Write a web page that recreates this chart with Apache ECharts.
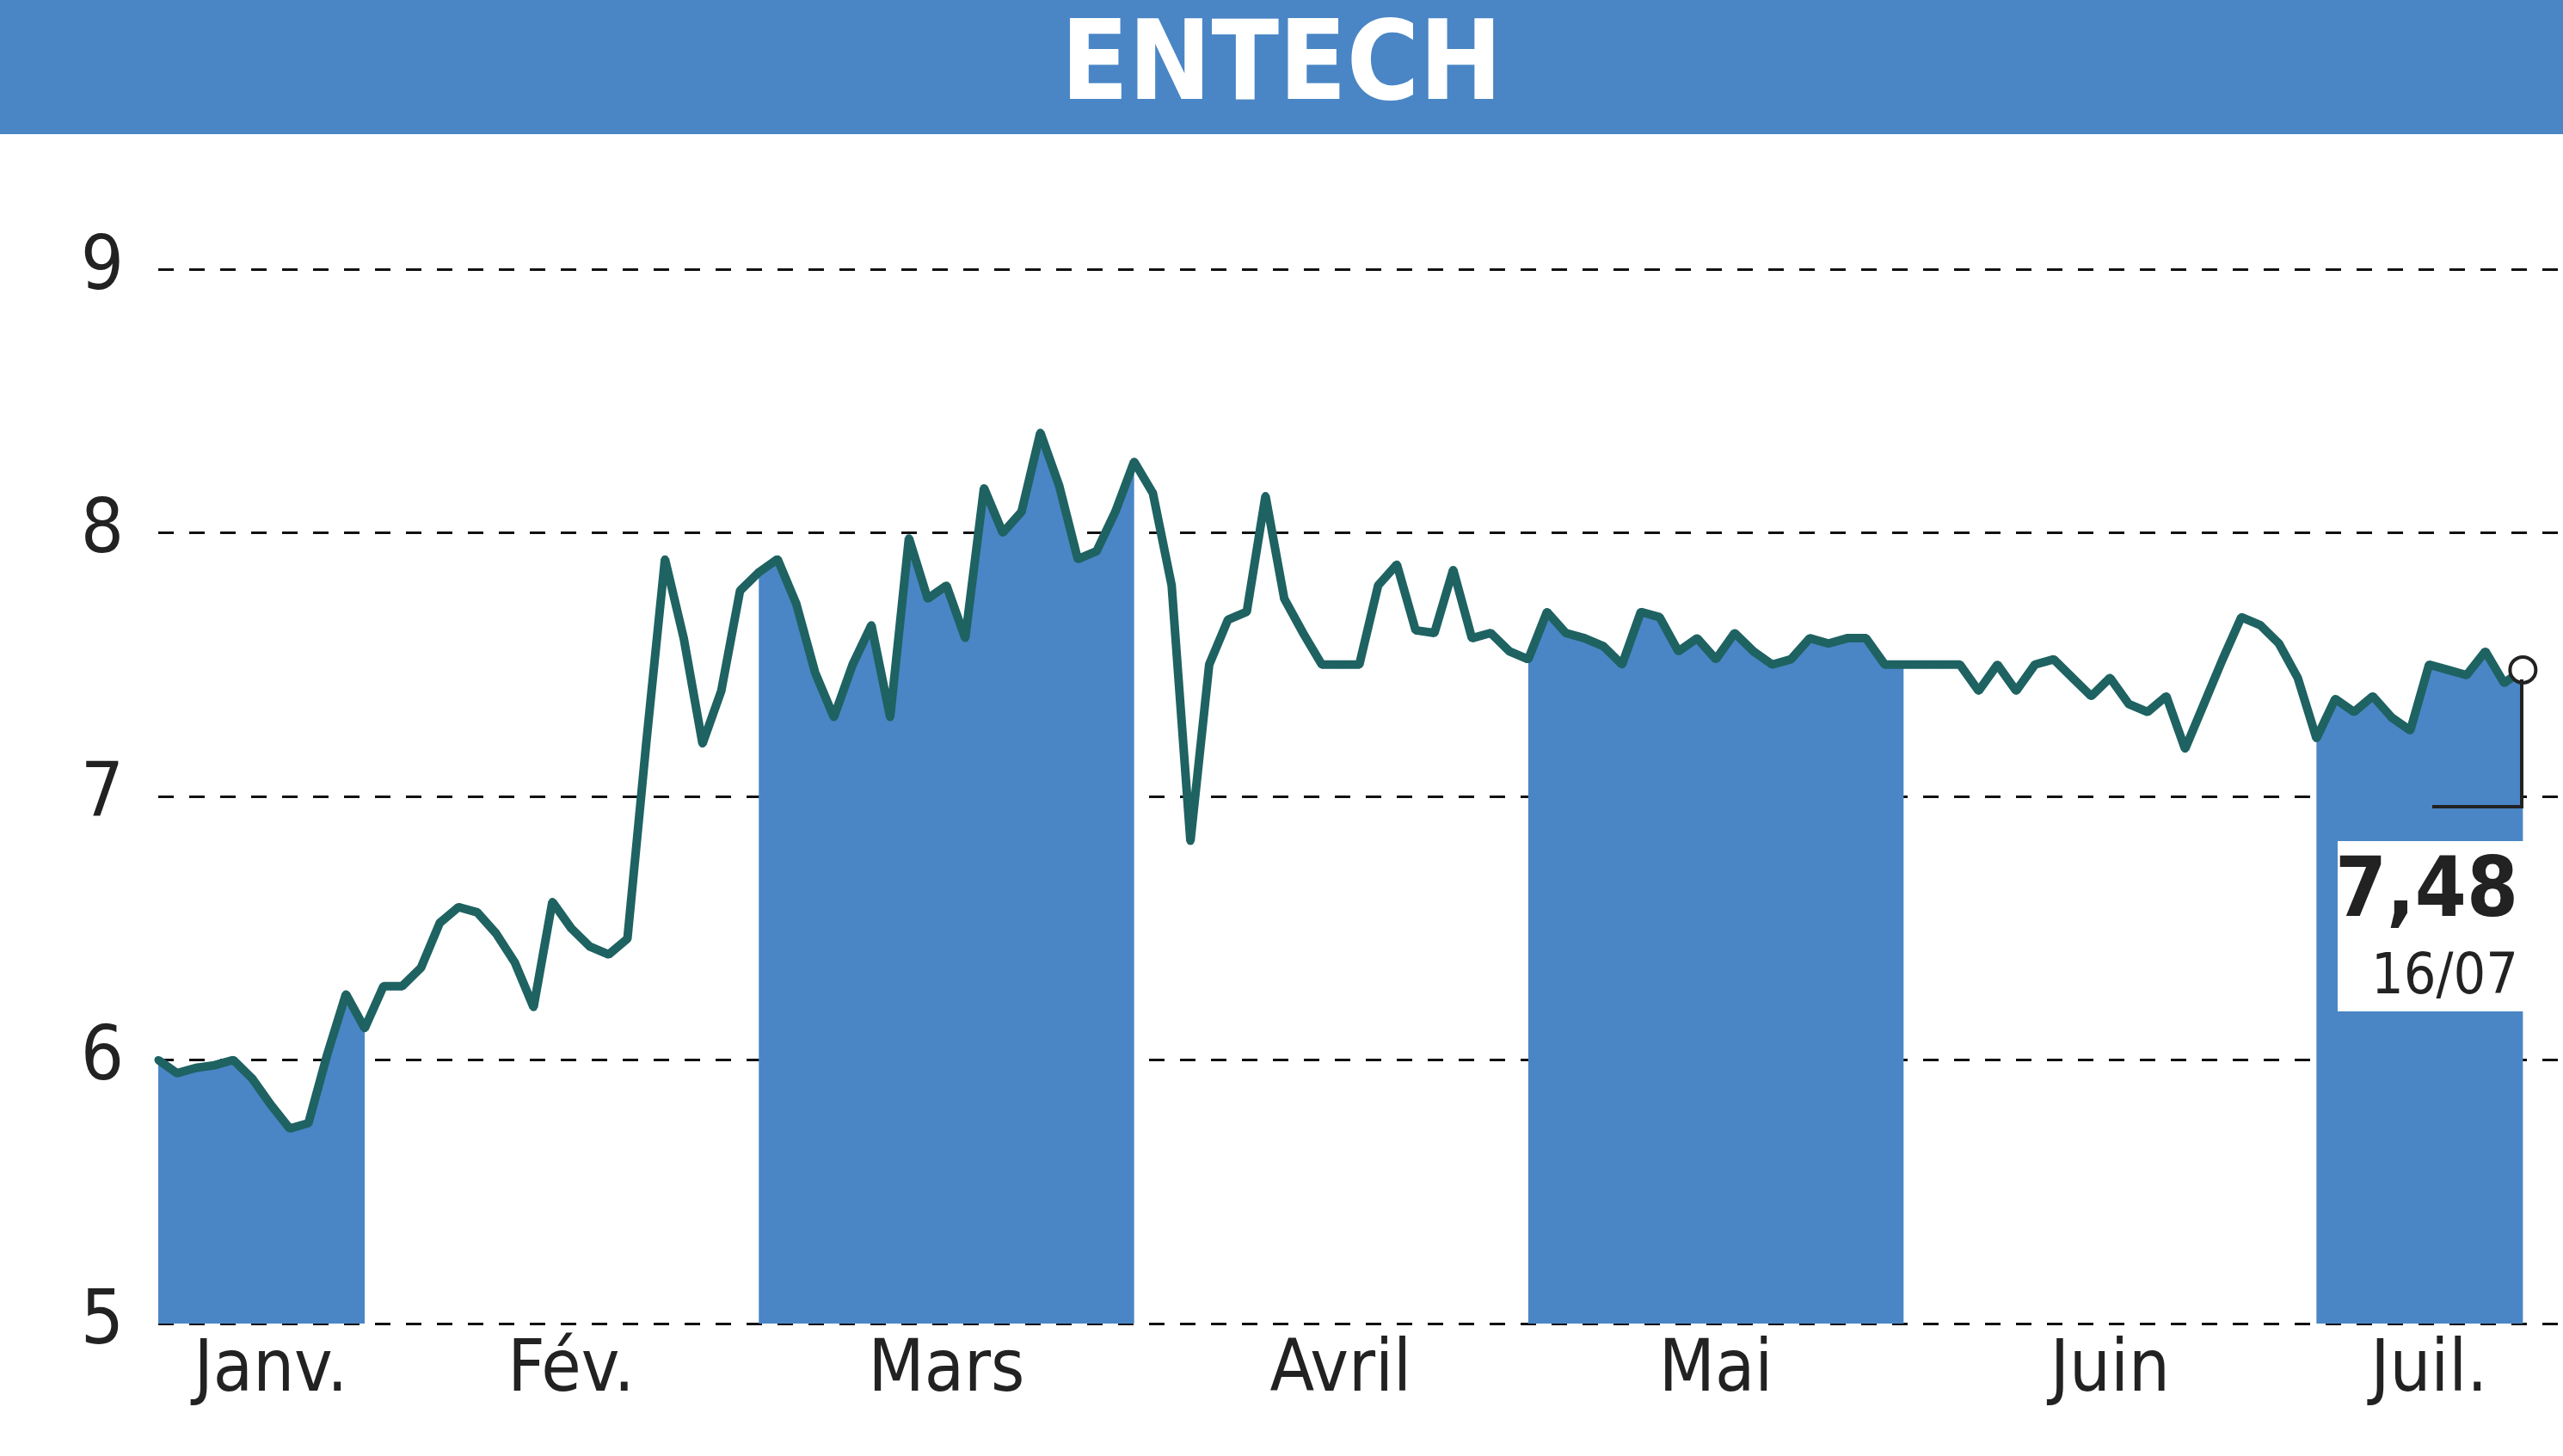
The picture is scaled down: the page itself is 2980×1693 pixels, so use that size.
<!DOCTYPE html>
<html><head><meta charset="utf-8">
<script src="https://cdn.jsdelivr.net/npm/echarts@6/dist/echarts.min.js"></script>
<style>html,body{margin:0;padding:0;background:#fff}#c{width:2980px;height:1693px}</style>
</head><body><div id="c"></div>
<script>
const monthNames=["Janv.","Fév.","Mars","Avril","Mai","Juin","Juil."];
const jan=[6.0,5.95,5.97,5.98,6.0,5.93,5.83,5.74,5.76,6.02,6.25,6.12];
const feb=[6.28,6.28,6.35,6.52,6.58,6.56,6.48,6.37,6.2,6.6,6.5,6.43,6.4,6.46,7.2,7.9,7.6,7.2,7.4,7.78];
const mar=[7.85,7.9,7.73,7.47,7.3,7.5,7.65,7.3,7.98,7.75,7.8,7.6,8.17,8.0,8.08,8.38,8.18,7.9,7.93,8.08,8.27];
const apr=[8.15,7.8,6.83,7.5,7.67,7.7,8.14,7.75,7.62,7.5,7.5,7.5,7.8,7.88,7.63,7.62,7.86,7.6,7.62,7.55];
const may=[7.52,7.7,7.62,7.6,7.57,7.5,7.7,7.68,7.55,7.6,7.52,7.62,7.55,7.5,7.52,7.6,7.58,7.6,7.6,7.5,7.5];
const jun=[7.5,7.5,7.5,7.4,7.5,7.4,7.5,7.52,7.45,7.38,7.45,7.35,7.32,7.38,7.18,7.35,7.52,7.68,7.65,7.58,7.45];
const jul=[7.22,7.37,7.32,7.38,7.3,7.25,7.5,7.48,7.46,7.55,7.43,7.48];
const yTicks=[5,6,7,8,9];
const months=[jan,feb,mar,apr,may,jun,jul];
const cats=[],vals=[],area=[];
months.forEach((m,mi)=>{m.forEach((v,i)=>{cats.push(i===Math.floor(m.length/2)?monthNames[mi]:'');vals.push(v);area.push(mi%2===0?v:null);});});
cats.push('','');
const chart=echarts.init(document.getElementById('c'));
const F='"Liberation Sans Narrow","DejaVu Sans Condensed",sans-serif';
chart.setOption({
 animation:false,
 grid:{left:184,right:0,top:313,bottom:1693-1539},
 xAxis:{type:'category',data:cats,boundaryGap:false,axisLine:{show:false},axisTick:{show:false},
  axisLabel:{interval:0,color:'#222',fontFamily:F,fontSize:84,margin:14,formatter:v=>v}},
 yAxis:{type:'value',min:5,max:9,interval:1,axisLine:{show:false},axisTick:{show:false},
  axisLabel:{color:'#222',fontFamily:F,fontSize:88,margin:40},
  splitLine:{lineStyle:{color:'#111',type:[18,18],width:3}}},
 series:[
  {type:'line',data:area,symbol:'none',connectNulls:false,lineStyle:{width:0},areaStyle:{color:'#4a86c5',opacity:1},z:1},
  {type:'line',data:vals,symbol:'circle',symbolSize:9,itemStyle:{color:'#1f6262'},lineStyle:{color:'#1f6262',width:10},z:3,
   markPoint:{symbol:'circle',symbolSize:30,itemStyle:{color:'#fff',borderColor:'#222',borderWidth:4},label:{show:false},data:[{coord:[vals.length-1,vals[vals.length-1]]}]}}
 ],
 graphic:[
  {type:'rect',z:100,shape:{x:0,y:0,width:2980,height:156},style:{fill:'#4a86c5'}},
  {type:'text',z:101,x:1490,y:82,style:{text:'ENTECH',fill:'#fff',font:'bold 128px '+F,align:'center',verticalAlign:'middle'}},
  {type:'polyline',z:100,shape:{points:[[2932,790],[2932,938],[2828,938]]},style:{stroke:'#222',lineWidth:4,fill:null}},
  {type:'rect',z:100,shape:{x:2718,y:978,width:216,height:198},style:{fill:'#fff'}},
  {type:'text',z:101,x:2928,y:1040,style:{text:'7,48',fill:'#222',font:'bold 96px '+F,align:'right',verticalAlign:'middle'}},
  {type:'text',z:101,x:2928,y:1138,style:{text:'16/07',fill:'#222',font:'66px '+F,align:'right',verticalAlign:'middle'}}
 ]
});
</script></body></html>
